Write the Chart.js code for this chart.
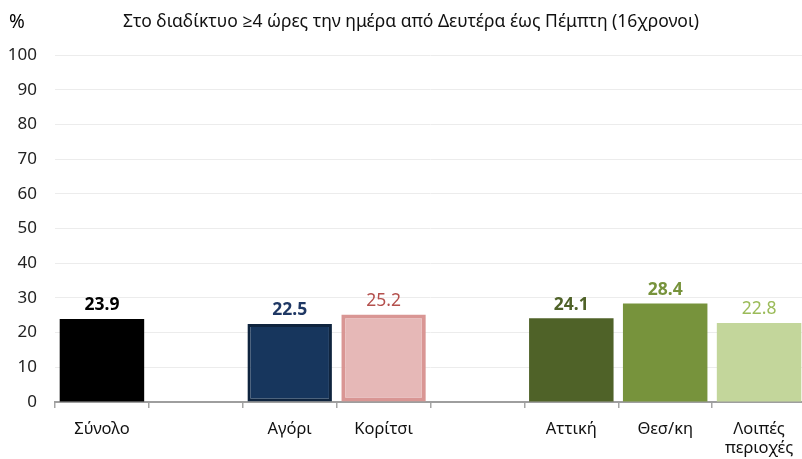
<!DOCTYPE html>
<html>
<head>
<meta charset="utf-8">
<script src="https://cdn.jsdelivr.net/npm/chart.js@4"></script>
<style>
  html, body { margin: 0; padding: 0; background: #fff; overflow: hidden; }
  #wrap { width: 806px; height: 459px; }
</style>
</head>
<body>
<div id="wrap"><canvas id="chart"></canvas></div>
<script>
// categories (empty ones are the gaps between groups)
const categories = ['Σύνολο', '', 'Αγόρι', 'Κορίτσι', '', 'Αττική', 'Θεσ/κη', ['Λοιπές', 'περιοχές']];
const values = [23.9, null, 22.5, 25.2, null, 24.1, 28.4, 22.8];
const fillColors = ['#000000', null, '#17365d', '#e6b8b7', null, '#4f6228', '#77933c', '#c3d69b'];
const edgeColors = ['#000000', null, '#0f243e', '#d99694', null, '#4f6228', '#77933c', '#c3d69b'];
const edgeWidths = [0, 0, 3, 4, 0, 0, 0, 0];
const labelColors = ['#000000', null, '#1f3864', '#b4504d', null, '#4f6228', '#77933c', '#9bbb59'];
const labelBold = [true, false, true, false, false, true, true, false];
const yTicks = [0, 10, 20, 30, 40, 50, 60, 70, 80, 90, 100];
const titleText = 'Στο διαδίκτυο ≥4 ώρες την ημέρα από Δευτέρα έως Πέμπτη (16χρονοι)';

const FONT = '"Noto Sans", "Open Sans", sans-serif';

// value labels above the bars + the title line
const labelsPlugin = {
  id: 'valueLabels',
  afterDatasetsDraw(chart) {
    const ctx = chart.ctx;
    const meta = chart.getDatasetMeta(0);
    ctx.save();
    ctx.textAlign = 'center';
    ctx.textBaseline = 'bottom';
    meta.data.forEach((bar, i) => {
      if (values[i] == null) return;
      ctx.font = (labelBold[i] ? 'bold ' : '') + '17.5px ' + FONT;
      ctx.fillStyle = labelColors[i];
      ctx.fillText(values[i].toFixed(1), bar.x, bar.y - 5);
    });
    ctx.restore();
  },
  afterDraw(chart) {
    const ctx = chart.ctx;
    ctx.save();
    ctx.textBaseline = 'middle';
    ctx.fillStyle = '#000';
    ctx.font = '19px ' + FONT;
    ctx.textAlign = 'left';
    ctx.fillText('%', 9, 23);
    ctx.font = '17.5px ' + FONT;
    ctx.fillStyle = '#111';
    ctx.fillText(titleText, 123, 22);
    ctx.restore();
  }
};

new Chart(document.getElementById('chart'), {
  type: 'bar',
  data: {
    labels: categories,
    datasets: [{
      data: values,
      backgroundColor: fillColors,
      borderColor: edgeColors,
      borderWidth: edgeWidths,
      borderSkipped: false,
      barPercentage: 0.9,
      categoryPercentage: 1.0
    }]
  },
  options: {
    responsive: true,
    maintainAspectRatio: false,
    animation: false,
    layout: { padding: { top: 55, right: 0, bottom: 0, left: 0 } },
    plugins: {
      legend: { display: false },
      title: { display: false },
      tooltip: { enabled: false }
    },
    scales: {
      x: {
        offset: true,
        grid: {
          offset: true,
          drawOnChartArea: false,
          drawTicks: true,
          tickLength: 6,
          color: '#a6a6a6',
          lineWidth: 1.5
        },
        border: { display: true, color: '#9e9e9e', width: 2 },
        ticks: {
          color: '#111',
          font: { family: FONT, size: 16.5, lineHeight: 1.2 },
          padding: 11,
          maxRotation: 0,
          autoSkip: false
        },
        afterFit(scale) { scale.height = 57; }
      },
      y: {
        min: 0,
        max: 100,
        afterBuildTicks(scale) { scale.ticks = yTicks.map(v => ({ value: v })); },
        grid: { color: '#ececec', lineWidth: 1, drawTicks: false },
        border: { display: false },
        ticks: {
          color: '#222',
          font: { family: FONT, size: 17 },
          padding: 18
        },
        afterFit(scale) { scale.width = 55; }
      }
    }
  },
  plugins: [labelsPlugin]
});
</script>
</body>
</html>
